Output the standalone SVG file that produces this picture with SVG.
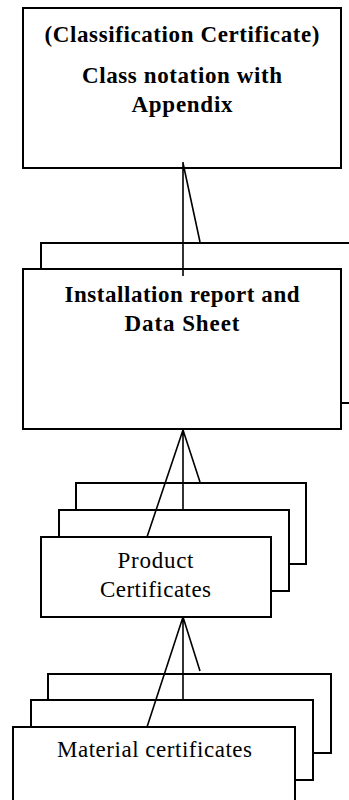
<svg xmlns="http://www.w3.org/2000/svg" width="349" height="800" viewBox="0 0 349 800">
<style>
.box{fill:#fff;stroke:#000;stroke-width:2}
.ln{fill:none;stroke:#000;stroke-width:1.6}
.b{font-weight:bold;font-size:23px;fill:#000;text-anchor:middle}
.r{font-size:23px;fill:#000;text-anchor:middle}
</style>
<rect width="349" height="800" fill="#fff"/>
<g font-family="Liberation Serif">
<g id="classification">
<rect class="box" x="23" y="8" width="318" height="160"/>
<text class="b" x="182" y="42" textLength="275" lengthAdjust="spacing">(Classification Certificate)</text>
<text class="b" x="182" y="83" textLength="200" lengthAdjust="spacing">Class notation with</text>
<text class="b" x="182" y="112" textLength="101" lengthAdjust="spacing">Appendix</text>
</g>
<g id="installation">
<rect class="box" x="41" y="243" width="320" height="160"/>
<rect class="box" x="23" y="269" width="318" height="160"/>
<text class="b" x="182" y="302" textLength="235" lengthAdjust="spacing">Installation report and</text>
<text class="b" x="182" y="331" textLength="115" lengthAdjust="spacing">Data Sheet</text>
</g>
<g id="product">
<rect class="box" x="76" y="483" width="230" height="81"/>
<rect class="box" x="59" y="510" width="230" height="81"/>
<rect class="box" x="41" y="537" width="230" height="80"/>
<text class="r" x="155.5" y="568" textLength="76" lengthAdjust="spacing">Product</text>
<text class="r" x="155.5" y="597" textLength="111" lengthAdjust="spacing">Certificates</text>
</g>
<g id="material">
<rect class="box" x="48" y="674" width="283" height="79"/>
<rect class="box" x="31" y="700" width="282" height="80"/>
<rect class="box" x="13" y="727" width="282" height="90"/>
<text class="r" x="154.5" y="757" textLength="195" lengthAdjust="spacing">Material certificates</text>
</g>
</g>
<g id="connectors">
<path class="ln" d="M183 162 V276 M183 163 L200 242"/>
<path class="ln" d="M183 430 V510 M183 430 L200 482 M183 430 L147 537"/>
<path class="ln" d="M183 617 V700 M183 617 L200 671 M183 617 L147 727"/>
</g>
</svg>
